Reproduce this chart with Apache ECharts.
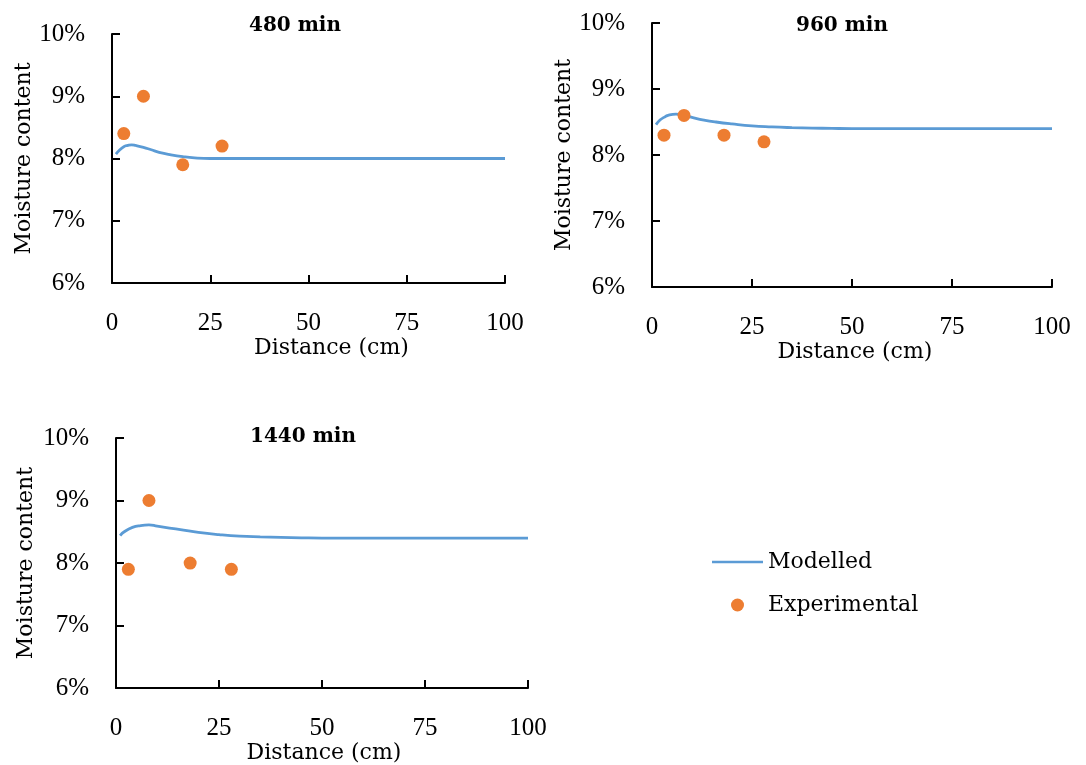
<!DOCTYPE html>
<html>
<head>
<meta charset="utf-8">
<script src="https://cdn.jsdelivr.net/npm/echarts@6/dist/echarts.min.js"></script>
<style>
html,body{margin:0;padding:0;background:#fff;}
#chart{width:1086px;height:765px;}
</style>
</head>
<body>
<div id="chart"></div>
<script>
// ---- data (moisture content in %, distance in cm) ----
const panelTitles = ['480 min', '960 min', '1440 min'];
const modelled480 = [[1,8.07],[2,8.14],[3,8.19],[4,8.21],[5,8.22],[6,8.21],[8,8.18],[10,8.14],[12,8.10],[15,8.06],[18,8.03],[21,8.01],[25,8.00],[30,8.00],[40,8.00],[60,8.00],[80,8.00],[100,8.00]];
const modelled960 = [[1,8.46],[2,8.53],[3,8.57],[4,8.60],[6,8.62],[8,8.60],[10,8.57],[13,8.53],[16,8.50],[20,8.47],[25,8.44],[30,8.425],[35,8.415],[40,8.408],[45,8.403],[50,8.40],[60,8.40],[80,8.40],[100,8.40]];
const modelled1440 = [[1,8.44],[2,8.50],[4,8.57],[6,8.60],[8,8.61],[10,8.59],[13,8.56],[16,8.53],[20,8.49],[25,8.455],[30,8.43],[35,8.418],[40,8.41],[45,8.404],[50,8.40],[70,8.40],[100,8.40]];
const experimental480 = [[3,8.4],[8,9.0],[18,7.9],[28,8.2]];
const experimental960 = [[3,8.3],[8,8.6],[18,8.3],[28,8.2]];
const experimental1440 = [[3,7.9],[8,9.0],[18,8.0],[28,7.9]];
const xMin = 0, xMax = 100, xStep = 25;
const yMin = 6, yMax = 10, yStep = 1;
const seriesNames = ['Modelled', 'Experimental'];

const modelledSets = [modelled480, modelled960, modelled1440];
const experimentalSets = [experimental480, experimental960, experimental1440];

const grids = [
  {left:112, top:34, width:393, height:249},
  {left:652, top:23, width:400, height:264},
  {left:116, top:438, width:412, height:255}
];
const titlePos = [[295, 16], [842, 16], [303, 427]];
const xNameGap = [54, 52, 41];
const xNamePad = [46, 6, 4];
const yNameGap = [72, 60, 79];

const blue = '#5B9BD5', orange = '#ED7D31';
const nameFont = {fontFamily:'DejaVu Serif', fontSize:22, color:'#000'};
const tickFont = {fontFamily:'Liberation Serif', fontSize:25, color:'#000'};
const axisLine = {show:true, onZero:false, lineStyle:{color:'#000', width:2}};
const axisTick = {show:true, inside:true, length:8, lineStyle:{color:'#000', width:2}};

const option = {
  animation:false,
  backgroundColor:'#fff',
  title: panelTitles.map((t,i)=>({
    text:t, left:titlePos[i][0], top:titlePos[i][1], textAlign:'center', padding:0,
    textStyle:{fontFamily:'DejaVu Serif', fontWeight:'bold', fontSize:20, color:'#000'}
  })),
  legend:{
    orient:'vertical', left:707, top:545, itemWidth:51, itemHeight:13, itemGap:19,
    data:[
      {name:seriesNames[0], icon:'path://M0,0H51V2.6H0Z', itemStyle:{color:blue}},
      {name:seriesNames[1], icon:'circle', itemStyle:{color:orange, opacity:1}}
    ],
    textStyle:Object.assign({lineHeight:24}, nameFont)
  },
  grid: grids,
  xAxis: grids.map((g,i)=>({
    gridIndex:i, type:'value', min:xMin, max:xMax, interval:xStep,
    name:'Distance (cm)', nameLocation:'middle', nameGap:xNameGap[i],
    nameTextStyle:Object.assign({padding:[0,0,0,xNamePad[i]]}, nameFont),
    axisLine:axisLine, axisTick:axisTick, splitLine:{show:false},
    axisLabel:Object.assign({margin:28}, tickFont)
  })),
  yAxis: grids.map((g,i)=>({
    gridIndex:i, type:'value', min:yMin, max:yMax, interval:yStep,
    name:'Moisture content', nameLocation:'middle', nameGap:yNameGap[i],
    nameTextStyle:nameFont,
    axisLine:axisLine, axisTick:axisTick, splitLine:{show:false},
    axisLabel:Object.assign({margin:27, formatter:v=>v+'%'}, tickFont)
  })),
  series: []
};
for (let i=0;i<3;i++){
  option.series.push({
    name:seriesNames[0], type:'line', xAxisIndex:i, yAxisIndex:i,
    data:modelledSets[i], smooth:true, symbol:'none', showSymbol:false,
    lineStyle:{color:blue, width:2.8}, itemStyle:{color:blue}, z:2
  });
  option.series.push({
    name:seriesNames[1], type:'scatter', xAxisIndex:i, yAxisIndex:i,
    data:experimentalSets[i], symbol:'circle', symbolSize:13,
    itemStyle:{color:orange, opacity:1}, z:3
  });
}
const chart = echarts.init(document.getElementById('chart'), null, {renderer:'canvas'});
chart.setOption(option);
</script>
</body>
</html>
